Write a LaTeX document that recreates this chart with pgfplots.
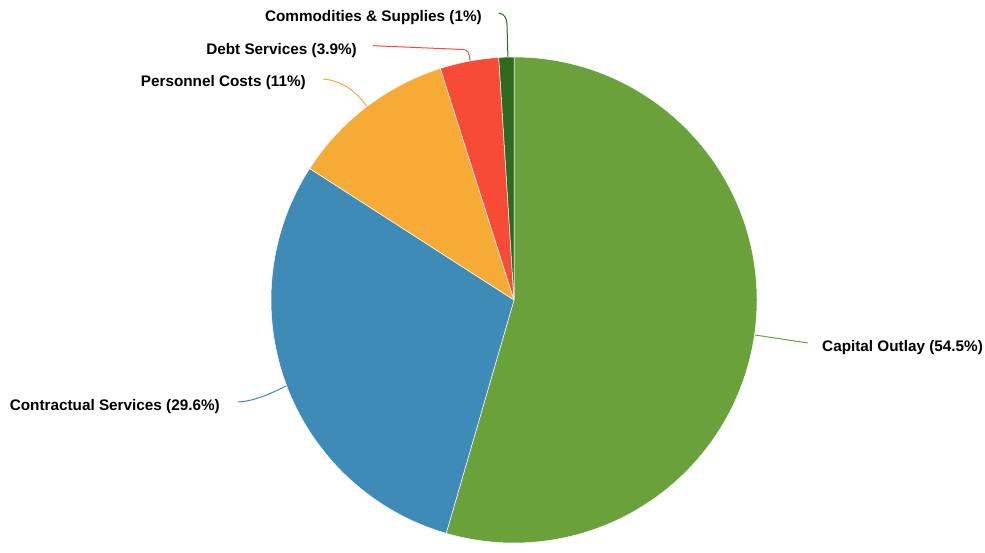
\documentclass[border=0pt]{standalone}
\usepackage{pgfplots}
\usepackage{pgfplotstable}
\pgfplotsset{compat=1.18}
\usepackage{fontspec}
\setmainfont{Liberation Sans}
\definecolor{c0}{HTML}{6AA13A}
\definecolor{c1}{HTML}{3D8BB6}
\definecolor{c2}{HTML}{F7AB37}
\definecolor{c3}{HTML}{F84B37}
\definecolor{c4}{HTML}{2E6A1F}
\pgfplotstableread[col sep=comma]{
name,value
Capital Outlay,54.5
Contractual Services,29.6
Personnel Costs,11
Debt Services,3.9
Commodities and Supplies,1
}\piedata
\xdef\cum{90}
\foreach \i in {0,...,4}{%
  \pgfplotstablegetelem{\i}{value}\of\piedata
  \pgfmathsetmacro\e{\cum-3.6*\pgfplotsretval}%
  \expandafter\xdef\csname sa\i\endcsname{\cum}%
  \expandafter\xdef\csname ea\i\endcsname{\e}%
  \xdef\cum{\e}%
}
\begin{document}
\begin{tikzpicture}
\begin{axis}[
  x=1pt, y=1pt,
  xmin=0, xmax=985, ymin=0, ymax=544,
  hide axis, clip=false,
]
\path (axis cs:0,0) rectangle (axis cs:985,544);
% leader lines
\draw[c0, line width=1pt] (axis cs:755,209) -- (axis cs:808,201);
\draw[c1, line width=1pt] (axis cs:238,142) .. controls (axis cs:255,143) and (axis cs:270,150) .. (axis cs:288,159);
\draw[c2, line width=1pt] (axis cs:323,465) .. controls (axis cs:345,463) and (axis cs:358,450) .. (axis cs:368,436);
\draw[c3, line width=1pt] (axis cs:373,498.3) -- (axis cs:463,494.5) .. controls (axis cs:468,494) and (axis cs:469.5,492) .. (axis cs:470,482);
\draw[c4, line width=1pt] (axis cs:499,531) .. controls (axis cs:505,530) and (axis cs:507,525) .. (axis cs:507,519) -- (axis cs:508,484);
% slices
\pgfplotsinvokeforeach{0,...,4}{%
  \fill[fill=c#1, draw=white, line width=0.5pt, line join=round]
    (axis cs:514,244) -- ++(\csname sa#1\endcsname:243pt)
    arc[start angle=\csname sa#1\endcsname, end angle=\csname ea#1\endcsname, radius=243pt] -- cycle;
}
% labels
\begin{scope}[every node/.style={inner sep=0pt, font=\fontsize{15.3}{18}\selectfont\bfseries, text=black}]
\node[anchor=base west] at (axis cs:822,192) {Capital Outlay (54.5\%)};
\node[anchor=base east] at (axis cs:220,133) {Contractual Services (29.6\%)};
\node[anchor=base east] at (axis cs:306,457) {Personnel Costs (11\%)};
\node[anchor=base east] at (axis cs:357,489) {Debt Services (3.9\%)};
\node[anchor=base east] at (axis cs:482,522.3) {Commodities \& Supplies (1\%)};
\end{scope}
\end{axis}
\end{tikzpicture}
\end{document}
